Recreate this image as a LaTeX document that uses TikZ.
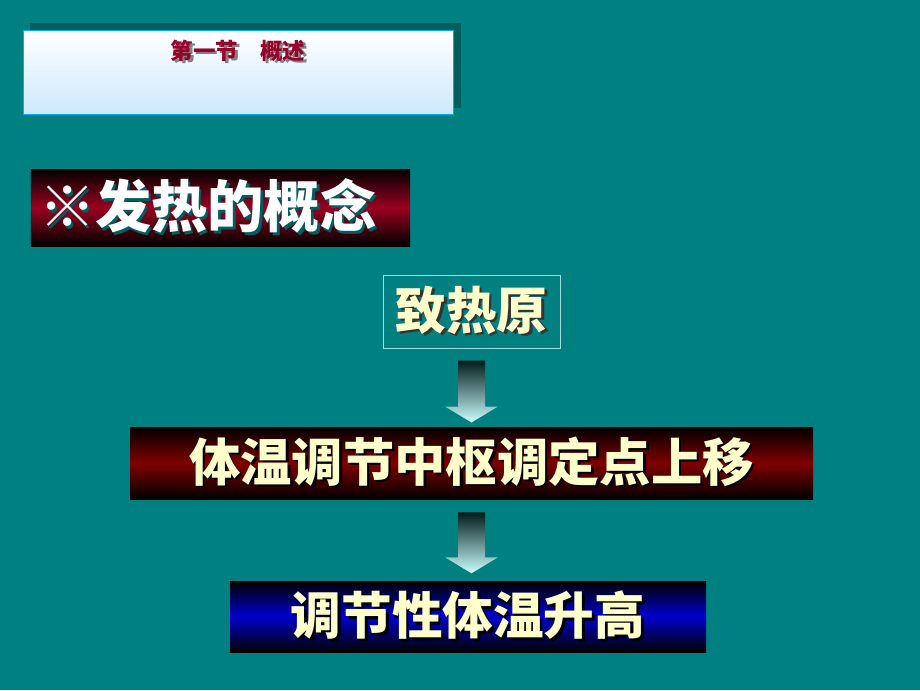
\documentclass[tikz,border=0pt]{standalone}
\usepackage{fontspec}
\newfontfamily\cjk{Noto Sans CJK SC}
\usetikzlibrary{positioning}

\definecolor{slideteal}{HTML}{008080}
\definecolor{shadowteal}{HTML}{005E5E}
\definecolor{titlered}{HTML}{99002A}
\definecolor{bannerred}{HTML}{9A0020}
\definecolor{cream}{HTML}{FFFFCC}
\definecolor{paleblue}{HTML}{CCE8FC}
\definecolor{boxline}{HTML}{A8DCDC}

% text with a small drop shadow
\newcommand{\shadowed}[3]{\makebox[0pt][l]{\hspace{1.8pt}\raisebox{-1.8pt}{\color{#1}#3}}{\color{#2}#3}}

\tikzset{
	banner/.style={rectangle,inner sep=0pt,top color=black,bottom color=black,middle color=#1},
	bigtext/.style={font=\cjk\bfseries\fontsize{36}{40}\selectfont},
	arrowfill/.style={top color=black!80!slideteal,bottom color=cyan!20}
}

\begin{document}
\begin{tikzpicture}
		% slide background
		\useasboundingbox[fill=slideteal] (0,0) rectangle (23,-17.25);

		% section title box
		\fill[shadowteal] (0.75,-0.575) rectangle (11.525,-2.7);
		\node[rectangle,draw=cyan,line width=0.7pt,top color=white,bottom color=paleblue,minimum width=10.75cm,minimum height=2.1cm,inner sep=0pt] (title) at (5.95,-1.8125) {};
		\node[font=\cjk\bfseries\fontsize{16}{18}\selectfont] (titletext) at (5.95,-1.3) {\shadowed{gray}{titlered}{第一节　概述}};

		% concept banner
		\node[banner=bannerred,minimum width=9.475cm,minimum height=1.925cm,text width=9.075cm,align=left,inner xsep=0.2cm,font=\cjk\bfseries\fontsize{40}{44}\selectfont] (concept) at (5.5125,-5.1875) {\raisebox{-2pt}{\shadowed{shadowteal}{white}{※发热的概念}}};

		% cause
		\node[rectangle,draw=boxline,line width=0.7pt,minimum width=4.425cm,minimum height=1.825cm,inner sep=0pt,bigtext] (pyro) at (11.7875,-7.7875) {\shadowed{black!80}{cream}{致热原}};

		% set point banner
		\node[banner=red!50!black,minimum width=17.075cm,minimum height=1.8cm,font=\cjk\bfseries\fontsize{36.5}{40}\selectfont] (setpoint) at (11.7875,-11.575) {\raisebox{-2pt}{\shadowed{black}{cream}{体温调节中枢调定点上移}}};

		% result banner
		\node[banner=blue!80!black,minimum width=11.9cm,minimum height=1.775cm,bigtext] (rise) at (11.7,-15.4125) {\raisebox{-3pt}{\shadowed{black}{cream}{调节性体温升高}}};

		% block arrows
		\coordinate (arrA) at ([yshift=-0.3cm]pyro.south);
		\coordinate (arrB) at ([yshift=-0.325cm]setpoint.south);
		\shade[arrowfill] (arrA) ++(-0.3375,0) -- ++(0.675,0) -- ++(0,-1.15) -- ++(0.325,0) -- ++(-0.6625,-0.4) -- ++(-0.6625,0.4) -- ++(0.325,0) -- cycle;
		\shade[arrowfill] (arrB) ++(-0.3375,0) -- ++(0.675,0) -- ++(0,-1.125) -- ++(0.325,0) -- ++(-0.6625,-0.4) -- ++(-0.6625,0.4) -- ++(0.325,0) -- cycle;
	\end{tikzpicture}
\end{document}
